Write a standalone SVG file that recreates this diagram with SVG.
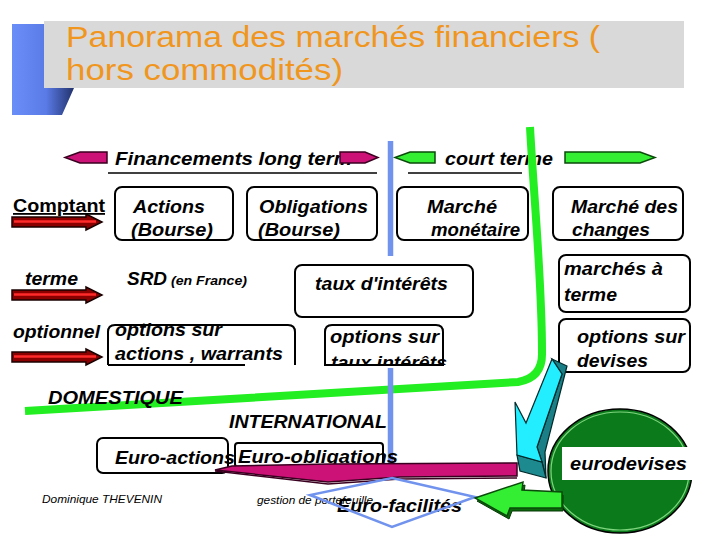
<svg xmlns="http://www.w3.org/2000/svg" width="720" height="540" viewBox="0 0 720 540">
<defs>
<linearGradient id="bluegrad" x1="0" y1="0" x2="1" y2="0">
<stop offset="0" stop-color="#6a8ef8"/><stop offset="0.55" stop-color="#5a7be6"/><stop offset="1" stop-color="#22326c"/>
</linearGradient>
<clipPath id="clipTaux"><rect x="320" y="320" width="140" height="45"/></clipPath>
<g id="ra">
<polygon points="0,-5 74,-5 74,-8 90,0 74,8 74,5 0,5" fill="#8a0000" stroke="#1a0000" stroke-width="1.5"/>
<line x1="2" y1="-0.5" x2="84" y2="-0.5" stroke="#ff2a2a" stroke-width="2.5"/>
</g>
</defs>
<style>
.t{font-family:"Liberation Sans",Arial,sans-serif;font-weight:bold;font-style:italic;font-size:18px;fill:#000}
.title{font-family:"Liberation Sans",Arial,sans-serif;font-size:29px;fill:#f0961e}
.small{font-family:"Liberation Sans",Arial,sans-serif;font-style:italic;font-size:11.5px;fill:#000}
.box{fill:#fff;stroke:#000;stroke-width:2}
.pink{fill:#cc1177;stroke:#3a0020;stroke-width:1.5}
.grn{fill:#33ee33;stroke:#0a4a0a;stroke-width:1.5}
.blue{stroke:#7193ee;fill:none}
</style>
<rect width="720" height="540" fill="#fff"/>

<g id="title">
<polygon points="12,24 44,24 44,88 74,88 62,115 12,115" fill="url(#bluegrad)"/>
<rect x="44" y="21" width="640" height="67" fill="#d9d9d9"/>
<text class="title" x="66" y="47" textLength="534" lengthAdjust="spacingAndGlyphs">Panorama des marchés financiers (</text>
<text class="title" x="66" y="80" textLength="277" lengthAdjust="spacingAndGlyphs">hors commodités)</text>
</g>

<g id="long-terme">
<polygon class="pink" points="65,157.5 80,152 107,152 107,163 80,163"/>
<text class="t" x="115" y="165" textLength="237" lengthAdjust="spacingAndGlyphs">Financements long term</text>
<polygon class="pink" points="340,152 365,152 378,157.5 365,163 340,163"/>
<line x1="108" y1="173" x2="377" y2="173" stroke="#000" stroke-width="1.5"/>
</g>

<g id="court-terme">
<polygon class="grn" points="395,157.5 410,152 435,152 435,163 410,163"/>
<text class="t" x="445" y="165" textLength="108" lengthAdjust="spacingAndGlyphs">court terme</text>
<polygon class="grn" points="565,152 640,152 655,157.5 640,163 565,163"/>
<line x1="408" y1="173" x2="522" y2="173" stroke="#000" stroke-width="1.5"/>
</g>

<g id="connectors">
<line class="blue" x1="390.5" y1="141" x2="390.5" y2="256" stroke-width="5.5"/>
<use href="#ra" x="12" y="222"/>
<use href="#ra" x="12" y="295"/>
<use href="#ra" x="12" y="357"/>
</g>

<g id="comptant">
<text class="t" x="13" y="212" textLength="92" lengthAdjust="spacingAndGlyphs" style="font-style:normal;text-decoration:underline">Comptant</text>
</g>
<g id="actions">
<rect class="box" x="115" y="187" width="118" height="53" rx="7"/>
<text class="t" x="133" y="213" textLength="72" lengthAdjust="spacingAndGlyphs">Actions</text>
<text class="t" x="131" y="236" textLength="82" lengthAdjust="spacingAndGlyphs">(Bourse)</text>
</g>
<g id="obligations">
<rect class="box" x="247" y="187" width="130" height="53" rx="7"/>
<text class="t" x="259" y="213" textLength="109" lengthAdjust="spacingAndGlyphs">Obligations</text>
<text class="t" x="258" y="236" textLength="82" lengthAdjust="spacingAndGlyphs">(Bourse)</text>
</g>
<g id="marche-monetaire">
<rect class="box" x="397" y="187" width="131" height="53" rx="7"/>
<text class="t" x="427" y="213" textLength="70" lengthAdjust="spacingAndGlyphs">Marché</text>
<text class="t" x="431" y="236" textLength="89" lengthAdjust="spacingAndGlyphs">monétaire</text>
</g>
<g id="marche-changes">
<rect class="box" x="553" y="187" width="130" height="53" rx="7"/>
<text class="t" x="571" y="213" textLength="107" lengthAdjust="spacingAndGlyphs">Marché des</text>
<text class="t" x="572" y="236" textLength="78" lengthAdjust="spacingAndGlyphs">changes</text>
</g>

<g id="terme">
<text class="t" x="25" y="285" textLength="53" lengthAdjust="spacingAndGlyphs">terme</text>
</g>
<g id="srd">
<text class="t" x="127" y="285" textLength="40" lengthAdjust="spacingAndGlyphs">SRD</text>
<text class="t" x="171" y="285" textLength="76" lengthAdjust="spacingAndGlyphs" style="font-size:12px">(en France)</text>
</g>
<g id="taux-interets">
<rect class="box" x="295" y="265" width="178" height="52" rx="7"/>
<text class="t" x="315" y="290" textLength="133" lengthAdjust="spacingAndGlyphs">taux d'intérêts</text>
</g>
<g id="marches-a-terme">
<rect class="box" x="559" y="255" width="131" height="57" rx="7"/>
<text class="t" x="564" y="275" textLength="99" lengthAdjust="spacingAndGlyphs">marchés à</text>
<text class="t" x="564" y="301" textLength="53" lengthAdjust="spacingAndGlyphs">terme</text>
</g>

<g id="optionnel">
<text class="t" x="13" y="338" textLength="87" lengthAdjust="spacingAndGlyphs">optionnel</text>
</g>
<g id="options-actions">
<path d="M108,365 V332 Q108,325 115,325 H288 Q295,325 295,332 V365" fill="#fff" stroke="#000" stroke-width="2"/>
<line x1="108" y1="365" x2="245" y2="365" stroke="#000" stroke-width="2"/>
<text class="t" x="115" y="336" textLength="107" lengthAdjust="spacingAndGlyphs">options sur</text>
<text class="t" x="115" y="360" textLength="168" lengthAdjust="spacingAndGlyphs">actions , warrants</text>
</g>
<g id="options-taux">
<path d="M325,365 V332 Q325,325 332,325 H436 Q443,325 443,332 V365 Z" fill="#fff" stroke="#000" stroke-width="2"/>
<text class="t" x="330" y="343" textLength="109" lengthAdjust="spacingAndGlyphs">options sur</text>
<text class="t" x="331" y="369" textLength="116" lengthAdjust="spacingAndGlyphs" clip-path="url(#clipTaux)">taux intérêts</text>
</g>
<g id="options-devises">
<rect class="box" x="559" y="319" width="131" height="53" rx="7"/>
<text class="t" x="577" y="343" textLength="108" lengthAdjust="spacingAndGlyphs">options sur</text>
<text class="t" x="577" y="367" textLength="71" lengthAdjust="spacingAndGlyphs">devises</text>
</g>

<g id="frontier">
<path d="M530,127 C534,200 542,280 542,352 Q543,378 518,382 C420,388 250,398 25,411" fill="none" stroke="#22ee22" stroke-width="8"/>
<line class="blue" x1="390.5" y1="368" x2="390.5" y2="478" stroke-width="5.5"/>
</g>

<g id="domestique">
<text class="t" x="48" y="404" textLength="135" lengthAdjust="spacingAndGlyphs">DOMESTIQUE</text>
</g>
<g id="international">
<text class="t" x="229" y="428" textLength="158" lengthAdjust="spacingAndGlyphs">INTERNATIONAL</text>
</g>

<g id="euro-actions">
<rect class="box" x="97" y="438" width="131" height="35" rx="6"/>
<text class="t" x="115" y="464" textLength="120" lengthAdjust="spacingAndGlyphs">Euro-actions</text>
</g>
<g id="euro-obligations">
<rect class="box" x="235" y="443" width="148" height="24" rx="3"/>
<text class="t" x="238" y="463" textLength="160" lengthAdjust="spacingAndGlyphs">Euro-obligations</text>
</g>

<g id="pink-arrow">
<polyline points="215,471 328,484 400,479 517,478" fill="none" stroke="#3a0020" stroke-width="1.5"/>
<polygon class="pink" points="517,463 517,476 400,477 328,482 215,470 232,466 330,464"/>
</g>

<g id="footer">
<text class="small" x="42" y="503" textLength="120" lengthAdjust="spacingAndGlyphs">Dominique THEVENIN</text>
<text class="small" x="257" y="504" textLength="116" lengthAdjust="spacingAndGlyphs">gestion de portefeuille</text>
</g>
<g id="euro-facilites">
<text class="t" x="337" y="512" textLength="125" lengthAdjust="spacingAndGlyphs">Euro-facilités</text>
<polygon class="blue" points="392,478 475,497 392,527 310,495" stroke-width="2.5"/>
</g>

<g id="cyan-arrow">
<polygon points="552,359 567,366 545,452 546,478 542,462 537,447 562,374" fill="#1a7f86" stroke="#002a2a" stroke-width="1.2"/>
<polygon points="517,455 542,462 546,478 520,471" fill="#1d8a90" stroke="#002a2a" stroke-width="1.2"/>
<polygon points="552,359 562,374 537,447 542,462 517,455 515,402 526,423" fill="#22eeff" stroke="#002a2a" stroke-width="1.2"/>
</g>

<g id="eurodevises">
<ellipse cx="620" cy="471" rx="72" ry="62" fill="#0b7a1a" stroke="#000" stroke-width="1.5"/>
<ellipse cx="620" cy="471" rx="69" ry="59" fill="none" stroke="#7fd67f" stroke-width="1.2"/>
<rect x="562" y="447" width="133" height="33" fill="#fff"/>
<text class="t" x="570" y="470" textLength="117" lengthAdjust="spacingAndGlyphs">eurodevises</text>
</g>

<g id="green-arrow">
<polygon points="477,501 525,485 524,493 563,495 563,511 512,511 509,519" fill="#0a6a0a" stroke="#063806" stroke-width="1"/>
<polygon class="grn" points="475,498 523,482 522,490 562,492 562,508 510,508 507,516"/>
</g>
</svg>
